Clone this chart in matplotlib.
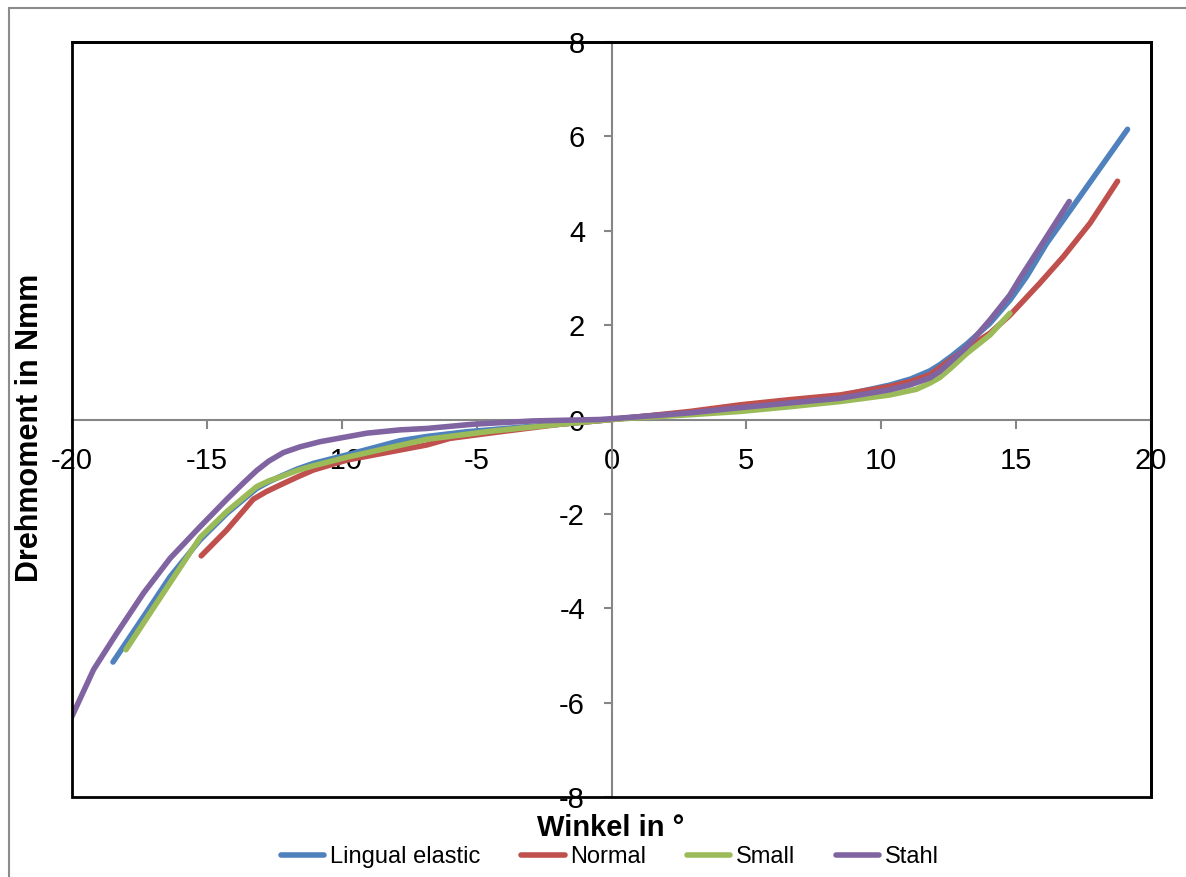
import matplotlib.pyplot as plt
from matplotlib.patches import Rectangle

plt.rcParams['font.family'] = ['Liberation Sans', 'DejaVu Sans']
plt.rcParams['axes.unicode_minus'] = False

# Lingual elastic
le_x = [-18.48, -17.35, -16.36, -15.25, -14.26, -13.15, -12.7, -12.29, -11.65, -11.05, -9.81, -7.84,
        -6.85, -5.37, -3.5, -1.91, 0, 1.06, 2.9, 4.76, 6.6, 8.47, 10.32, 11.1, 11.8, 12.17, 12.6,
        13.17, 14.03, 14.77, 15.39, 16.13, 17.36, 19.13]
le_y = [-5.14, -4.18, -3.33, -2.55, -1.99, -1.46, -1.32, -1.21, -1.05, -0.93, -0.75, -0.45,
        -0.36, -0.26, -0.17, -0.10, 0.0, 0.06, 0.15, 0.27, 0.38, 0.50, 0.73, 0.86, 1.03, 1.16, 1.34,
        1.60, 2.04, 2.53, 3.03, 3.73, 4.72, 6.15]

# Normal
no_x = [-15.21, -14.26, -13.28, -12.8, -12.29, -11.65, -11.05, -9.81, -6.85, -5.99, -4.13, -1.91,
        0, 1.06, 2.9, 4.76, 6.6, 8.47, 10.32, 11.1, 11.8, 12.17, 12.6, 13.17, 14.03, 14.77, 15.88,
        16.75, 17.74, 18.76]
no_y = [-2.89, -2.34, -1.69, -1.53, -1.39, -1.22, -1.07, -0.86, -0.54, -0.40, -0.26, -0.10,
        0.0, 0.06, 0.17, 0.31, 0.42, 0.52, 0.70, 0.81, 0.95, 1.10, 1.28, 1.51, 1.83, 2.21, 2.89,
        3.45, 4.16, 5.05]

# Small
sm_x = [-18.0, -16.86, -15.25, -14.26, -13.15, -12.7, -12.29, -11.65, -11.05, -9.81, -6.85, -4.5,
        -1.91, 0, 1.06, 2.9, 4.76, 6.6, 8.47, 10.32, 11.3, 11.8, 12.17, 12.6, 13.17, 14.03, 14.77]
sm_y = [-4.88, -3.89, -2.50, -1.95, -1.42, -1.30, -1.22, -1.08, -0.98, -0.80, -0.42, -0.25,
        -0.10, 0.0, 0.04, 0.10, 0.17, 0.27, 0.38, 0.52, 0.64, 0.77, 0.89, 1.10, 1.40, 1.79, 2.25]

# Stahl
st_x = [-20, -19.2, -18.34, -17.35, -16.36, -15.25, -14.26, -13.6, -13.15, -12.7, -12.16, -11.55,
        -10.8, -9.07, -7.84, -6.85, -5.13, -2.9, -0.43, 1.06, 2.9, 4.76, 6.6, 8.47, 10.32, 11.1,
        11.8, 12.17, 12.6, 13.17, 14.03, 14.77, 15.14, 16.13, 16.97]
st_y = [-6.29, -5.3, -4.53, -3.68, -2.94, -2.27, -1.69, -1.32, -1.08, -0.88, -0.70, -0.58,
        -0.47, -0.29, -0.22, -0.19, -0.10, -0.03, 0.0, 0.06, 0.14, 0.25, 0.35, 0.45, 0.63, 0.74,
        0.88, 1.02, 1.24, 1.54, 2.11, 2.64, 2.99, 3.87, 4.62]

names = ['Lingual elastic', 'Normal', 'Small', 'Stahl']
colors = ['#4F81BD', '#C0504D', '#9BBB59', '#8064A2']
xticks = [-20, -15, -10, -5, 0, 5, 10, 15, 20]
yticks = [-8, -6, -4, -2, 0, 2, 4, 6, 8]

fig = plt.figure(figsize=(11.86, 8.77), dpi=100)
ax = fig.add_axes([72 / 1186, 1 - 797 / 877, (1151 - 72) / 1186, (797 - 42) / 877])

series = [(le_x, le_y), (no_x, no_y), (sm_x, sm_y), (st_x, st_y)]
for (xs, ys), name, c in zip(series, names, colors):
    ax.plot(xs, ys, color=c, lw=4, label=name, solid_capstyle='round',
            solid_joinstyle='round', zorder=3)

ax.set_xlim(-20, 20)
ax.set_ylim(-8, 8)
ax.set_xticks(xticks)
ax.set_yticks(yticks)

# axes crossing at zero
for s in ['left', 'bottom']:
    ax.spines[s].set_position('zero')
    ax.spines[s].set_color('#868686')
    ax.spines[s].set_linewidth(1.5)
for s in ['top', 'right']:
    ax.spines[s].set_color('black')
    ax.spines[s].set_linewidth(2)
ax.add_patch(Rectangle((0, 0), 1, 1, transform=ax.transAxes, fill=False, ec='black',
                       lw=2, clip_on=False, zorder=5))

ax.tick_params(axis='x', direction='out', length=6.5, width=1.5, color='#868686',
               labelsize=21, pad=13)
ax.tick_params(axis='y', direction='out', length=6, width=1.5, color='#868686',
               labelsize=21, pad=13)

fig.text(30 / 1186, 1 - 428 / 877, 'Drehmoment in Nmm', rotation=90, ha='center', va='center',
         fontsize=22, fontweight='bold')
fig.text(611 / 1186, 1 - 828 / 877, 'Winkel in °', ha='center', va='center',
         fontsize=21, fontweight='bold')

fig.legend(loc='center', bbox_to_anchor=(610 / 1186, 1 - 857 / 877), ncol=4, frameon=False,
           fontsize=17, handlelength=1.85, handletextpad=0.25, columnspacing=1.7)

# outer chart frame
fig.patches.append(Rectangle((9 / 1186, -0.05), 1.1, 0.05 + 1 - 8 / 877, transform=fig.transFigure,
                             fill=False, ec='#8c8c8c', lw=1.5))

fig.savefig('out.png', dpi=100)
